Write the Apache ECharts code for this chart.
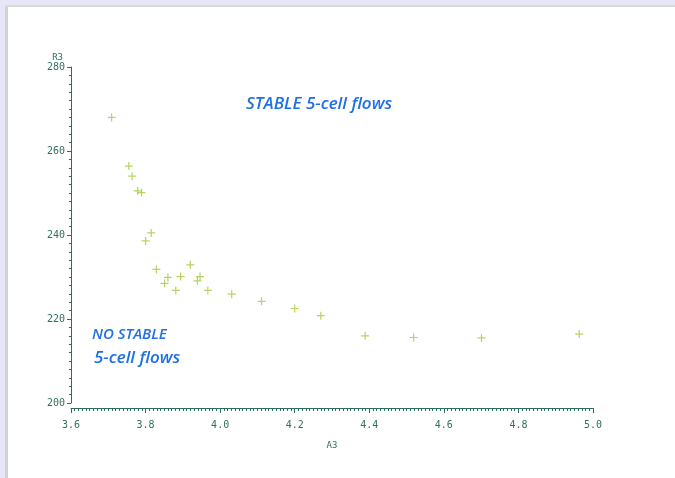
<!DOCTYPE html>
<html>
<head>
<meta charset="utf-8">
<script src="https://cdn.jsdelivr.net/npm/echarts@6/dist/echarts.min.js"></script>
<style>
html, body { margin: 0; padding: 0; background: #ffffff; }
#main { width: 675px; height: 478px; }
</style>
</head>
<body>
<div id="main"></div>
<script>
// A3 / R3 pairs
var a3 = [3.709, 3.755, 3.764, 3.779, 3.789, 3.815, 3.800, 3.829, 3.920, 3.860, 3.851, 3.894,
    3.946, 3.939, 3.881, 3.967, 4.031, 4.111, 4.200, 4.270, 4.389, 4.519, 4.701, 4.963];
var r3 = [268.0, 256.4, 254.0, 250.5, 250.1, 240.5, 238.6, 231.8, 232.9, 229.9, 228.5, 230.1,
    230.1, 229.1, 226.8, 226.8, 225.9, 224.2, 222.5, 220.8, 216.0, 215.6, 215.5, 216.4];
var xTicks = ['3.6', '3.8', '4.0', '4.2', '4.4', '4.6', '4.8', '5.0'];
var yTicks = ['200', '220', '240', '260', '280'];

var points = a3.map(function(v, i) { return [v, r3[i]]; });

var axisColor = '#2f6f5f';
var labelFont = 'DejaVu Sans Mono';

var myChart = echarts.init(document.getElementById('main'));
var option = {
    backgroundColor: '#ffffff',
    animation: false,
    grid: { left: 71, right: 82, top: 67, bottom: 75 },
    xAxis: {
        type: 'value',
        min: 3.6,
        max: 5.0,
        interval: 0.2,
        offset: 5,
        name: 'A3',
        nameLocation: 'middle',
        nameGap: 33,
        nameTextStyle: { color: axisColor, fontFamily: labelFont, fontSize: 9 },
        axisLine: { lineStyle: { color: axisColor, width: 1 } },
        axisTick: { length: 5, lineStyle: { color: axisColor } },
        minorTick: { show: true, splitNumber: 20, length: 3, lineStyle: { color: axisColor } },
        splitLine: { show: false },
        axisLabel: {
            color: axisColor, fontFamily: labelFont, fontSize: 10, margin: 12,
            formatter: function(v) { return xTicks[Math.round((v - 3.6) / 0.2)] || ''; }
        }
    },
    yAxis: {
        type: 'value',
        min: 200,
        max: 280,
        interval: 20,
        name: 'R3',
        nameLocation: 'end',
        nameGap: 5,
        nameTextStyle: { color: axisColor, fontFamily: labelFont, fontSize: 9, align: 'right', padding: [0, 8, 0, 0] },
        axisLine: { show: true, lineStyle: { color: axisColor, width: 1 } },
        axisTick: { show: true, length: 4, lineStyle: { color: axisColor } },
        minorTick: { show: true, splitNumber: 10, length: 2, lineStyle: { color: axisColor } },
        splitLine: { show: false },
        axisLabel: {
            color: axisColor, fontFamily: labelFont, fontSize: 10, margin: 6,
            formatter: function(v) { return yTicks[Math.round((v - 200) / 20)] || ''; }
        }
    },
    graphic: [
        { type: 'rect', left: 0, top: 0, shape: { width: 675, height: 5 }, style: { fill: '#e6e6f8' }, silent: true },
        { type: 'rect', left: 0, top: 0, shape: { width: 5, height: 478 }, style: { fill: '#e6e6f8' }, silent: true },
        { type: 'rect', left: 5, top: 5, shape: { width: 3, height: 473 }, style: { fill: '#cdd5cd' }, silent: true },
        { type: 'rect', left: 5, top: 5, shape: { width: 670, height: 2 }, style: { fill: '#d5dcd5' }, silent: true },
        {
            type: 'text', left: 246, top: 96,
            style: { text: 'STABLE 5-cell flows', fill: '#1f6fe6', font: 'italic 600 17px "Open Sans"' }
        },
        {
            type: 'text', left: 92, top: 327,
            style: { text: 'NO STABLE', fill: '#1f6fe6', font: 'italic 600 15px "Open Sans"' }
        },
        {
            type: 'text', left: 94, top: 350,
            style: { text: '5-cell flows', fill: '#1f6fe6', font: 'italic 600 17px "Open Sans"' }
        }
    ],
    series: [{
        type: 'scatter',
        data: points,
        symbol: 'path://M0,5L10,5M5,0L5,10',
        symbolSize: 8,
        itemStyle: { color: 'none', borderColor: '#a3c93a', borderWidth: 1.2 }
    }]
};
myChart.setOption(option);
</script>
</body>
</html>
